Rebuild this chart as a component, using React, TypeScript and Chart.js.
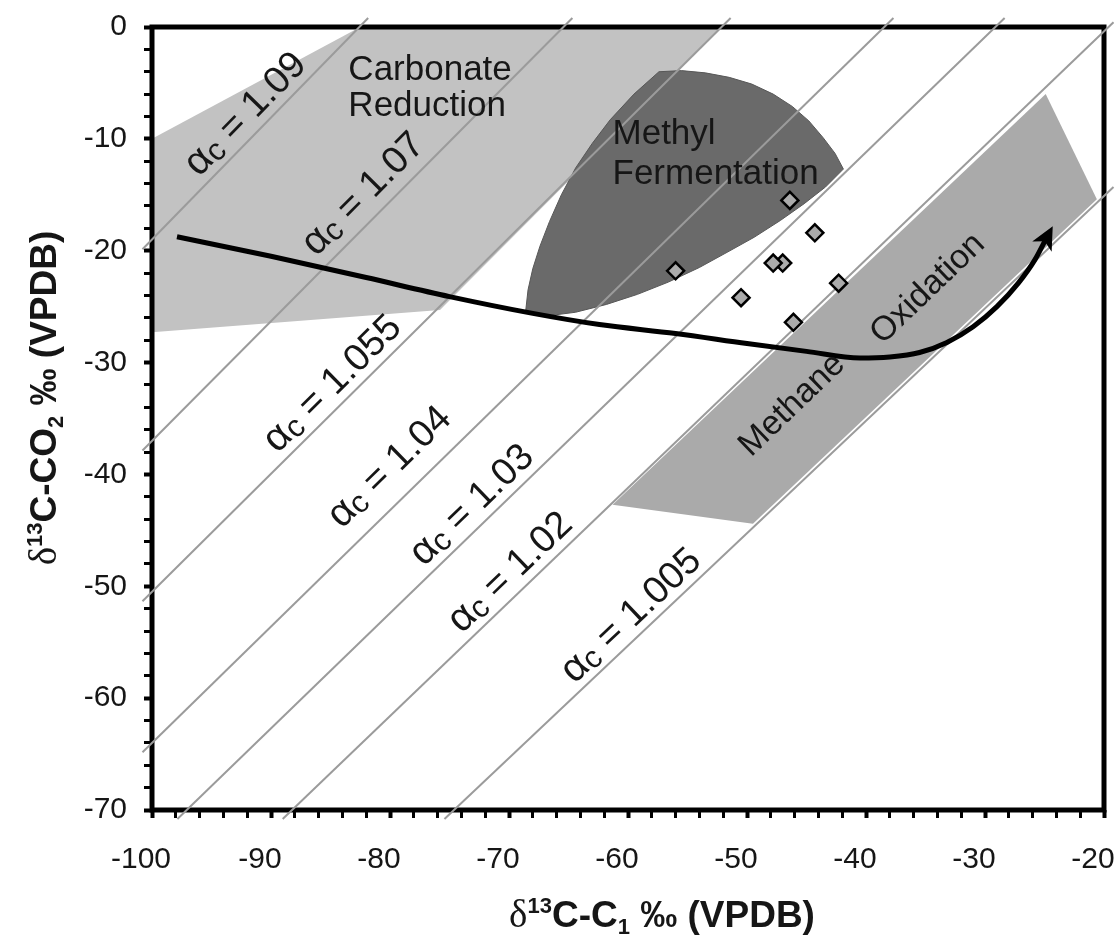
import React, { useEffect, useRef } from 'react';
import { Chart, registerables } from 'chart.js';

Chart.register(...registerables);

const CANVAS_W = 1117;
const CANVAS_H = 936;

// Axis ranges (‰ VPDB)
const c1Range = [-100, -20];
const co2Range = [-70, 0];
const minorStep = 2;
const majorStep = 10;

// Carbon isotope fractionation factors between CO2 and CH4
const alphaValues = [1.09, 1.07, 1.055, 1.04, 1.03, 1.02, 1.005];
const alphaLabels = ['= 1.09', '= 1.07', '= 1.055', '= 1.04', '= 1.03', '= 1.02', '= 1.005'];
// δ13C-C1 position along each line where its label sits, and the label's lift off the line (px)
const alphaLabelC1 = [-90.9, -80.8, -83.6, -78.2, -71.9, -68.7, -58.6];
const alphaLabelLift = [9.5, 13, 9.5, 20, 9.5, 9.5, 8.5];

// Measured samples
const sampleC1 = [-56.0, -50.5, -47.0, -47.8, -46.4, -44.3, -42.3, -46.1];
const sampleCO2 = [-21.8, -24.2, -21.1, -21.1, -15.5, -18.4, -22.9, -26.4];

// Carbonate reduction field
const carbonateC1 = [-100, -82.5, -52.1, -75.8, -100];
const carbonateCO2 = [-10, 0, 0, -25.3, -27.3];

// Methyl fermentation field
const methylC1 = [
  -68.6, -68.4, -68.0, -67.4, -66.6, -65.6, -64.4, -63.0, -61.5, -59.5, -57.4,
  -55.5, -53.5, -51.5, -49.6, -47.8, -46.2, -44.8, -43.6, -42.6, -41.9,
  -43.4, -45.2, -47.2, -49.4, -51.6, -54.0, -56.6, -59.2, -61.8, -64.4, -66.6, -68.6,
];
const methylCO2 = [
  -25.4, -23.5, -21.6, -19.6, -17.4, -15.0, -12.6, -10.4, -8.3, -6.0, -4.0,
  -3.9, -4.1, -4.5, -5.1, -6.0, -7.1, -8.4, -9.9, -11.3, -12.7,
  -14.3, -15.8, -17.3, -18.8, -20.1, -21.5, -22.8, -23.9, -24.8, -25.5, -25.8, -25.4,
];

// Methane oxidation field
const oxidationC1 = [-61.3, -49.5, -20.6, -24.9, -61.3];
const oxidationCO2 = [-42.7, -44.4, -15.4, -6.0, -42.7];

// Evolution path
const trendC1 = [-97.9, -90, -82, -75, -68, -62.4, -56, -50, -45, -40.5, -38, -35.5, -33.2, -31.0, -29.0, -27.2, -25.8, -24.9];
const trendCO2 = [-18.75, -20.5, -22.4, -24.1, -25.6, -26.6, -27.4, -28.3, -29.0, -29.6, -29.5, -29.1, -28.2, -26.8, -25.0, -22.9, -20.8, -19.0];

const TEXT = '#161616';
const SANS = '"Liberation Sans", Arial, sans-serif';
const SERIF = '"Liberation Serif", "Times New Roman", serif';

type Pt = { x: number; y: number };

const toPoints = (xs: number[], ys: number[]): Pt[] => xs.map((x, i) => ({ x, y: ys[i] }));

// Straight line δCO2 = α(δCH4 + 1000) − 1000, running a little past the frame
function refLine(a: number): Pt[] {
  const pad = 0.8;
  const xLo = c1Range[0] - pad;
  const xHi = c1Range[1] + pad;
  const yLo = co2Range[0] - pad;
  const yHi = co2Range[1] + pad;
  const yAt = (x: number) => a * (x + 1000) - 1000;
  const xAt = (y: number) => (y + 1000) / a - 1000;
  let x0 = xLo;
  let y0 = yAt(x0);
  if (y0 < yLo) {
    y0 = yLo;
    x0 = xAt(yLo);
  }
  let x1 = xHi;
  let y1 = yAt(x1);
  if (y1 > yHi) {
    y1 = yHi;
    x1 = xAt(yHi);
  }
  return [
    { x: x0, y: y0 },
    { x: x1, y: y1 },
  ];
}

type Run = { t: string; font: string; dy: number };

function runsWidth(ctx: CanvasRenderingContext2D, runs: Run[]) {
  let total = 0;
  for (const r of runs) {
    ctx.font = r.font;
    total += ctx.measureText(r.t).width;
  }
  return total;
}

function drawRuns(ctx: CanvasRenderingContext2D, runs: Run[], x: number, y: number) {
  let cx = x - runsWidth(ctx, runs) / 2;
  ctx.textAlign = 'left';
  ctx.textBaseline = 'alphabetic';
  for (const r of runs) {
    ctx.font = r.font;
    ctx.fillText(r.t, cx, y + r.dy);
    cx += ctx.measureText(r.t).width;
  }
}

export default function App() {
  const canvasRef = useRef<HTMLCanvasElement>(null);

  useEffect(() => {
    const canvas = canvasRef.current;
    if (!canvas) return;

    let framed = false;

    const lineAngle = (chart: any, a: number, c1: number) => {
      const xs = chart.scales.x;
      const ys = chart.scales.y;
      const p1x = xs.getPixelForValue(c1);
      const p1y = ys.getPixelForValue(a * (c1 + 1000) - 1000);
      const p2x = xs.getPixelForValue(c1 + 10);
      const p2y = ys.getPixelForValue(a * (c1 + 1010) - 1000);
      return Math.atan2(p2y - p1y, p2x - p1x);
    };

    const drawFrame = (chart: any) => {
      const { ctx, chartArea } = chart;
      ctx.save();
      ctx.lineWidth = 5;
      ctx.strokeStyle = '#000';
      ctx.strokeRect(chartArea.left, chartArea.top, chartArea.right - chartArea.left, chartArea.bottom - chartArea.top);
      ctx.restore();
    };

    const drawArrow = (chart: any) => {
      const idx = chart.data.datasets.findIndex((d: any) => d.trend);
      const meta = chart.getDatasetMeta(idx);
      const pts = meta.data;
      const end = pts[pts.length - 1];
      const cpx = end.cp1x ?? pts[pts.length - 2].x;
      const cpy = end.cp1y ?? pts[pts.length - 2].y;
      let dx = end.x - cpx;
      let dy = end.y - cpy;
      const len = Math.hypot(dx, dy) || 1;
      dx /= len;
      dy /= len;
      const ctx = chart.ctx;
      const tipX = end.x + dx * 15;
      const tipY = end.y + dy * 15;
      const baseX = end.x - dx * 8;
      const baseY = end.y - dy * 8;
      const hw = 11;
      ctx.save();
      ctx.fillStyle = '#000';
      ctx.beginPath();
      ctx.moveTo(tipX, tipY);
      ctx.lineTo(baseX - dy * hw, baseY + dx * hw);
      ctx.lineTo(end.x - dx * 2, end.y - dy * 2);
      ctx.lineTo(baseX + dy * hw, baseY - dx * hw);
      ctx.closePath();
      ctx.fill();
      ctx.restore();
    };

    const drawLabels = (chart: any) => {
      const { ctx } = chart;
      const xs = chart.scales.x;
      const ys = chart.scales.y;
      ctx.save();
      ctx.fillStyle = TEXT;

      // fractionation-factor labels sitting on their lines: α, subscript c, value
      alphaValues.forEach((a, i) => {
        const c1 = alphaLabelC1[i];
        const px = xs.getPixelForValue(c1);
        const py = ys.getPixelForValue(a * (c1 + 1000) - 1000);
        ctx.save();
        ctx.translate(px, py);
        ctx.rotate(lineAngle(chart, a, c1));
        const runs: Run[] = [
          { t: 'α', font: `40px ${SANS}`, dy: 0 },
          { t: 'c', font: `31px ${SANS}`, dy: 3 },
          { t: ' ' + alphaLabels[i], font: `38px ${SANS}`, dy: 0 },
        ];
        drawRuns(ctx, runs, 0, -alphaLabelLift[i]);
        ctx.restore();
      });

      // field names
      ctx.font = `35px ${SANS}`;
      ctx.textAlign = 'left';
      ctx.textBaseline = 'alphabetic';
      const cx = xs.getPixelForValue(-83.5);
      const cy = ys.getPixelForValue(-4.7);
      ctx.fillText('Carbonate', cx, cy);
      ctx.fillText('Reduction', cx, cy + 36);

      const mx = xs.getPixelForValue(-61.3);
      const my = ys.getPixelForValue(-10.5);
      ctx.fillText('Methyl', mx, my);
      ctx.fillText('Fermentation', mx, my + 40);

      ctx.font = `34px ${SANS}`;
      const ang = lineAngle(chart, 1.02, -40);
      const words: [string, number, number][] = [
        ['Methane', -46.2, -33.8],
        ['Oxidation', -34.8, -23.4],
      ];
      for (const [w, c1, co2] of words) {
        ctx.save();
        ctx.translate(xs.getPixelForValue(c1), ys.getPixelForValue(co2));
        ctx.rotate(ang);
        ctx.textAlign = 'center';
        ctx.textBaseline = 'middle';
        ctx.fillText(w, 0, 0);
        ctx.restore();
      }
      ctx.restore();
    };

    const drawTitles = (chart: any) => {
      const { ctx } = chart;
      ctx.save();
      ctx.fillStyle = TEXT;
      const big = `bold 37px ${SANS}`;
      const small = `bold 22px ${SANS}`;
      const delta = `39px ${SERIF}`;
      drawRuns(
        ctx,
        [
          { t: 'δ', font: delta, dy: 0 },
          { t: '13', font: small, dy: -14 },
          { t: 'C-C', font: big, dy: 0 },
          { t: '1', font: small, dy: 7 },
          { t: ' ‰ (VPDB)', font: big, dy: 0 },
        ],
        662,
        927,
      );
      ctx.translate(56, 398);
      ctx.rotate(-Math.PI / 2);
      drawRuns(
        ctx,
        [
          { t: 'δ', font: delta, dy: 0 },
          { t: '13', font: small, dy: -14 },
          { t: 'C-CO', font: big, dy: 0 },
          { t: '2', font: small, dy: 7 },
          { t: ' ‰ (VPDB)', font: big, dy: 0 },
        ],
        0,
        0,
      );
      ctx.restore();
    };

    const decor = {
      id: 'decor',
      beforeDatasetsDraw() {
        framed = false;
      },
      beforeDatasetDraw(chart: any, args: any) {
        const ds = chart.data.datasets[args.index];
        if (!framed && ds.refLine) {
          drawFrame(chart);
          framed = true;
        }
      },
      afterDatasetsDraw(chart: any) {
        if (!framed) drawFrame(chart);
        drawArrow(chart);
        drawLabels(chart);
        drawTitles(chart);
      },
    };

    const regionBase = {
      type: 'line',
      fill: 'shape',
      pointRadius: 0,
      tension: 0,
      order: 3,
    };

    const datasets: any[] = [
      {
        type: 'scatter',
        label: 'Samples',
        data: toPoints(sampleC1, sampleCO2),
        pointStyle: 'rectRot',
        pointRadius: 8.5,
        backgroundColor: '#ababab',
        borderColor: '#000',
        borderWidth: 2.5,
        order: 0,
      },
      {
        type: 'line',
        label: 'Path',
        trend: true,
        data: toPoints(trendC1, trendCO2),
        borderColor: '#000',
        borderWidth: 5,
        cubicInterpolationMode: 'monotone',
        pointRadius: 0,
        fill: false,
        order: 1,
      },
      ...alphaValues.map((a, i) => ({
        type: 'line',
        label: 'αc ' + alphaLabels[i],
        refLine: true,
        data: refLine(a),
        borderColor: '#9b9b9b',
        borderWidth: 2,
        pointRadius: 0,
        fill: false,
        clip: false,
        order: 2,
      })),
      {
        ...regionBase,
        label: 'Methyl Fermentation',
        data: toPoints(methylC1, methylCO2),
        backgroundColor: '#6a6a6a',
        borderColor: '#575757',
        borderWidth: 1,
      },
      {
        ...regionBase,
        label: 'Methane Oxidation',
        data: toPoints(oxidationC1, oxidationCO2),
        backgroundColor: '#aaaaaa',
        borderColor: 'rgba(0,0,0,0)',
        borderWidth: 0,
      },
      {
        ...regionBase,
        label: 'Carbonate Reduction',
        data: toPoints(carbonateC1, carbonateCO2),
        backgroundColor: '#c2c2c2',
        borderColor: 'rgba(0,0,0,0)',
        borderWidth: 0,
      },
    ];

    const tickFont = { family: SANS, size: 30 };

    const chart = new Chart(canvas, {
      type: 'scatter',
      data: { datasets },
      options: {
        responsive: false,
        animation: false,
        devicePixelRatio: 1,
        layout: { padding: { top: 27, right: 13, left: 0, bottom: 0 } },
        plugins: {
          legend: { display: false },
          tooltip: { enabled: false },
        },
        scales: {
          x: {
            type: 'linear',
            min: c1Range[0],
            max: c1Range[1],
            border: { display: false },
            grid: {
              drawOnChartArea: false,
              drawTicks: true,
              tickLength: 8,
              tickColor: '#000',
              tickWidth: (c: any) => (c.tick && c.tick.value % majorStep === 0 ? 4 : 3),
            },
            ticks: {
              stepSize: minorStep,
              autoSkip: false,
              maxRotation: 0,
              minRotation: 0,
              padding: 24,
              labelOffset: -11,
              color: TEXT,
              font: tickFont,
              callback: (v: any) => (Number(v) % majorStep === 0 ? String(v) : ''),
            },
            afterFit: (s: any) => {
              s.height = CANVAS_H - 810;
              s.paddingLeft = 0;
              s.paddingRight = 0;
            },
          },
          y: {
            type: 'linear',
            min: co2Range[0],
            max: co2Range[1],
            border: { display: false },
            grid: {
              drawOnChartArea: false,
              drawTicks: true,
              tickLength: 8,
              tickColor: '#000',
              tickWidth: (c: any) => (c.tick && c.tick.value % majorStep === 0 ? 4 : 3),
            },
            ticks: {
              stepSize: minorStep,
              autoSkip: false,
              padding: 17,
              color: TEXT,
              font: tickFont,
              callback: (v: any) => (Number(v) % majorStep === 0 ? String(v) : ''),
            },
            afterFit: (s: any) => {
              s.width = 152;
              s.paddingTop = 0;
              s.paddingBottom = 0;
            },
          },
        },
      } as any,
      plugins: [decor],
    } as any);

    return () => chart.destroy();
  }, []);

  return (
    <div style={{ position: 'absolute', left: 0, top: 0, width: CANVAS_W, height: CANVAS_H, background: '#fff' }}>
      <canvas ref={canvasRef} width={CANVAS_W} height={CANVAS_H} style={{ display: 'block' }} />
    </div>
  );
}
